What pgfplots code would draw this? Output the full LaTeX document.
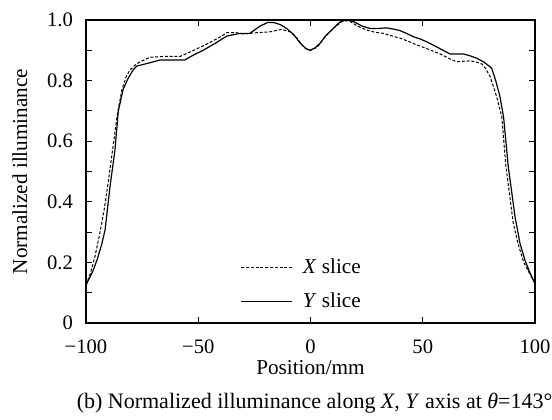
\documentclass[border=0pt]{standalone}
\usepackage{fontspec}
\setmainfont{Liberation Serif}
\usepackage{pgfplots}
\pgfplotsset{compat=1.18}

\begin{document}
\begin{tikzpicture}
\path[use as bounding box] (-43pt,-48pt) rectangle (233pt,161.5pt);
\begin{axis}[
  at={(0,0)}, anchor=south west,
  width=224.5pt, height=151.5pt, scale only axis,
  xmin=-100, xmax=100, ymin=0, ymax=1,
  xtick={-100,-50,0,50,100}, xticklabels={−100,−50,0,50,100},
  ytick={0,0.2,0.4,0.6,0.8,1.0}, yticklabels={0,0.2,0.4,0.6,0.8,1.0},
  minor ytick={0.1,0.3,0.5,0.7,0.9},
  tick align=inside, major tick length=3pt, minor tick length=3pt,
  tick style={black, line width=0.5pt},
  axis line style={line width=0.6pt},
  font=\fontsize{10.3}{12}\selectfont,
  xticklabel style={anchor=base, yshift=-15pt},
  yticklabel style={xshift=-3pt},
  xlabel={Position/mm}, ylabel={Normalized illuminance},
  label style={font=\fontsize{10.6}{12}\selectfont},
  xlabel style={at={(axis description cs:0.5,0)}, anchor=base, yshift=-25.5pt},
  ylabel style={at={(axis description cs:-0.147,0.5)}, anchor=center},
  legend style={draw=none, fill=none, at={(axis description cs:0.33,0.24)},
    anchor=north west, font=\fontsize{10.6}{12}\selectfont, row sep=4pt,
    /tikz/every odd column/.append style={column sep=3pt}},
  legend cell align=left,
  legend image code/.code={\draw[#1] (0cm,0cm) -- (0.9cm,0cm);},
]
\addplot[black, line width=0.5pt, dash pattern=on 1.5pt off 0.9pt] coordinates {
(-100,0.125) (-98,0.165) (-96,0.22) (-94,0.29) (-92,0.37) (-90,0.47)
(-88,0.58) (-86,0.69) (-84,0.77) (-82,0.815) (-80.4,0.835) (-78,0.852)
(-75.9,0.862) (-71.5,0.877) (-65,0.88) (-58,0.88) (-52,0.90) (-45,0.925)
(-40,0.945) (-37.3,0.958) (-33,0.958) (-29.9,0.954) (-24,0.958) (-18,0.961)
(-12.8,0.969) (-9.1,0.961) (-6,0.94) (-3,0.91) (0,0.90) (3,0.91) (6,0.94)
(10,0.972) (14,0.995) (16,0.998) (17.6,0.995) (21,0.98) (25,0.967)
(28.5,0.96) (32.4,0.956) (36,0.948) (39.9,0.94) (43.5,0.93) (47.3,0.918)
(52,0.905) (57.7,0.888) (62,0.872) (65.1,0.862) (68,0.864) (71,0.865)
(73.5,0.862) (76.3,0.855) (78,0.84) (80,0.813) (81.5,0.78) (82.9,0.747)
(85.2,0.681) (87,0.52) (90.3,0.33) (92.5,0.26) (95,0.2) (97.5,0.165) (100,0.13)
};
\addlegendentry{\textit{X} slice}
\addplot[black, line width=0.6pt] coordinates {
(-100,0.125) (-97,0.17) (-95,0.21) (-93,0.26) (-91.5,0.307) (-89.3,0.45)
(-87.1,0.571) (-85.6,0.70) (-83.5,0.77) (-81.2,0.808) (-79,0.835)
(-77.4,0.848) (-72,0.858) (-67,0.868) (-62,0.868) (-56,0.868) (-52,0.885)
(-47.8,0.90) (-42,0.925) (-37.3,0.947) (-32,0.955) (-27,0.956) (-22.5,0.98)
(-19,0.992) (-16.6,0.992) (-13.5,0.985) (-10.6,0.972) (-7.5,0.952)
(-4.7,0.925) (-2,0.905) (-0.2,0.90) (2,0.908) (4.2,0.923) (7,0.95)
(10.2,0.972) (12.5,0.99) (14.6,0.998) (17,0.999) (19.1,0.995) (23,0.98)
(26.5,0.972) (30,0.972) (33.9,0.974) (37,0.97) (39.9,0.965) (43,0.955)
(45.8,0.945) (49,0.937) (51.8,0.928) (57,0.908) (62.1,0.888) (65,0.888)
(68,0.888) (71,0.882) (74,0.874) (77.5,0.86) (80.7,0.841) (82.5,0.80)
(84.4,0.747) (86,0.68) (88.1,0.516) (91.1,0.351) (93.3,0.263) (95.5,0.208)
(97.5,0.17) (100,0.13)
};
\addlegendentry{\textit{Y} slice}
\end{axis}
\node[anchor=base, font=\fontsize{11}{13}\selectfont] at (114.3pt,-42.5pt)
  {(b) Normalized illuminance along \textit{X}, \textit{Y} axis at \textit{θ}=143°};
\end{tikzpicture}
\end{document}
